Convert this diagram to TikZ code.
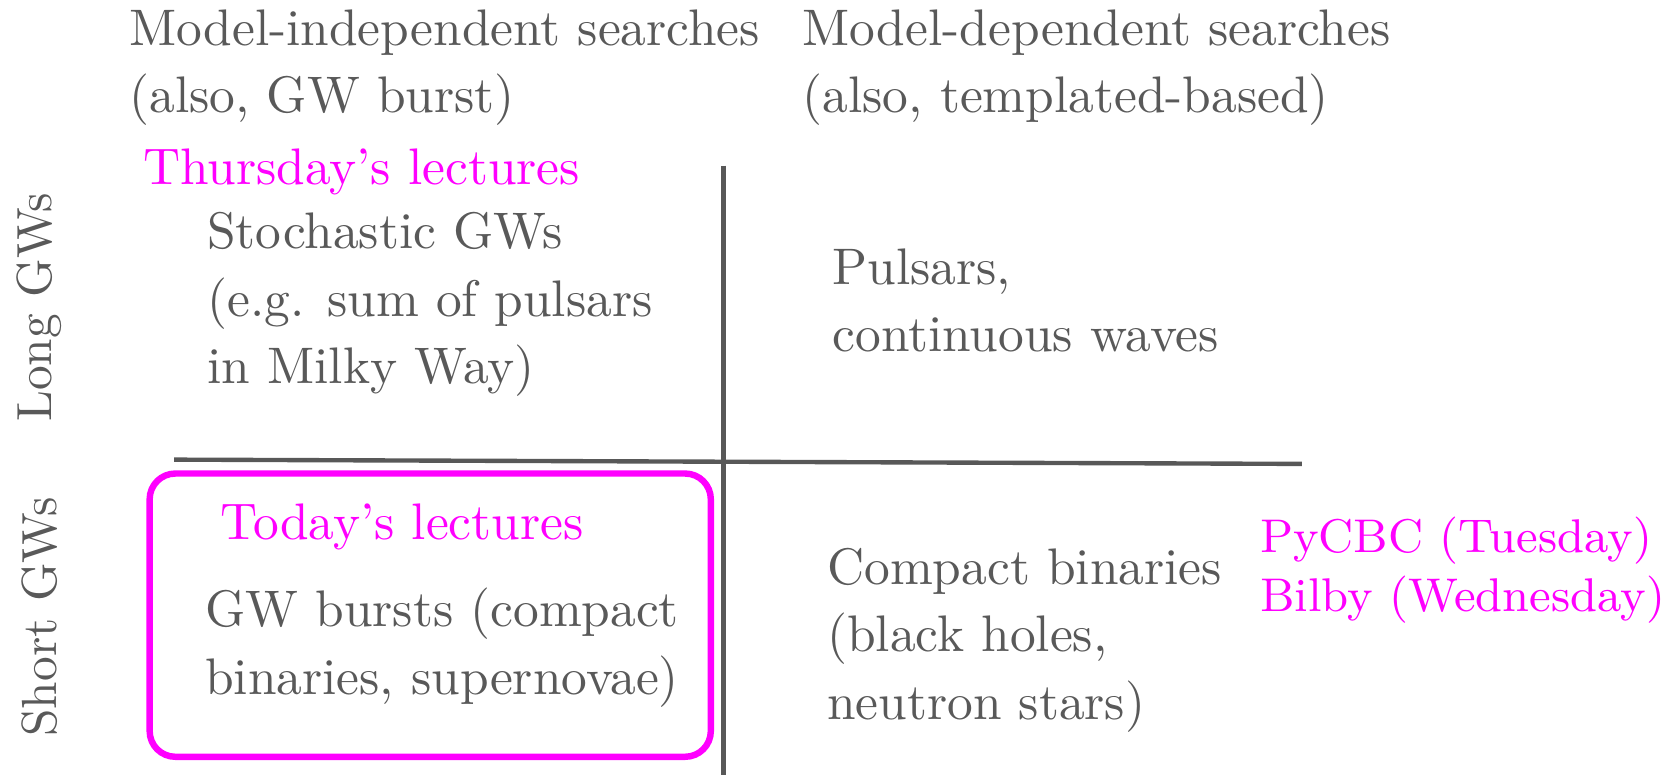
\documentclass[tikz,border=0pt]{standalone}
\usepackage{tikz}
\definecolor{gwGray}{RGB}{89,89,89}
\definecolor{gwLine}{RGB}{88,88,88}
\definecolor{gwMagenta}{RGB}{255,0,255}
\tikzset{
  txt/.style={text=gwGray, align=left, anchor=west, inner sep=0pt, font=\fontsize{10}{13.1}\selectfont},
  magtxt/.style={txt, text=gwMagenta},
  sidetxt/.style={txt, anchor=center, rotate=90, font=\fontsize{9.6}{12}\selectfont},
  divider/.style={draw=gwLine, line width=0.85pt},
  focusbox/.style={draw=gwMagenta, line width=1.25pt, rounded corners=5pt}
}

\begin{document}
\begin{tikzpicture}[x=0.7307cm, y=0.7307cm]
\useasboundingbox (0,0) rectangle (15.68,7.25);

% Column headers
\node[txt] (indep) at (1.20,6.62) {Model-independent searches\\(also, GW burst)};
\node[txt] (dep) at (7.50,6.62) {Model-dependent searches\\(also, templated-based)};

% Row labels
\node[sidetxt] (long) at (0.37,4.375) {Long GWs};
\node[sidetxt] (short) at (0.37,1.48) {Short GWs};

% Quadrant lines
\draw[divider] (6.77,5.70) -- (6.77,0);
\draw[divider] (1.63,2.95) -- (12.18,2.91);

% Today's box
\draw[focusbox] (1.40,0.17) rectangle (6.65,2.82);

% Long GWs row
\node[magtxt] (thu) at (1.33,5.64) {Thursday's lectures};
\node[txt] (stoch) at (1.93,4.40) {Stochastic GWs\\(e.g. sum of pulsars\\in Milky Way)};
\node[txt] (puls) at (7.78,4.44) {Pulsars,\\continuous waves};

% Short GWs row
\node[magtxt] (today) at (2.05,2.32) {Today's lectures};
\node[txt] (burst) at (1.91,1.19) {GW bursts (compact\\binaries, supernovae)};
\node[txt] (cbc) at (7.73,1.26) {Compact binaries\\(black holes,\\neutron stars)};
\node[magtxt, font=\fontsize{9.2}{11.5}\selectfont] (codes) at (11.78,1.92) {PyCBC (Tuesday)\\Bilby (Wednesday)};
\end{tikzpicture}
\end{document}
